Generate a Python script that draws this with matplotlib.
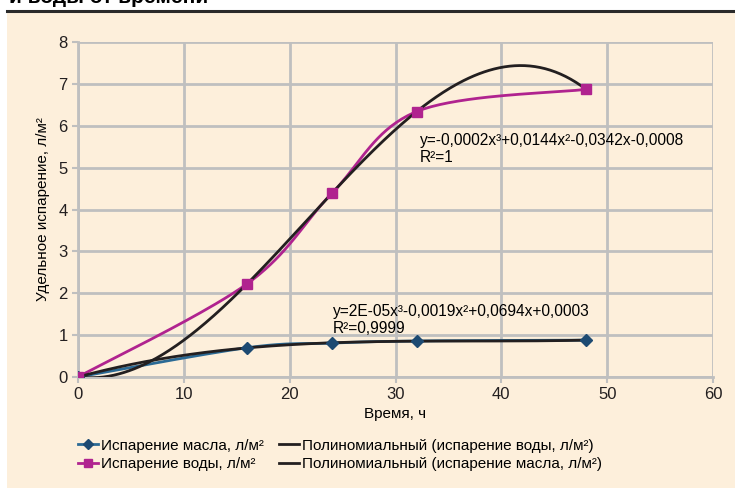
import numpy as np
import matplotlib
matplotlib.use("Agg")
import matplotlib.pyplot as plt
from matplotlib.patches import Rectangle
from matplotlib.lines import Line2D

plt.rcParams["font.family"] = ["Liberation Sans", "DejaVu Sans"]

# data
hours = [0, 16, 24, 32, 48]
oil = [0.0, 0.70, 0.81, 0.86, 0.88]
water = [0.0, 2.23, 4.39, 6.34, 6.87]

x_ticks = [0, 10, 20, 30, 40, 50, 60]
y_ticks = [0, 1, 2, 3, 4, 5, 6, 7, 8]

label_oil = "Испарение масла, л/м²"
label_water = "Испарение воды, л/м²"
label_trend_water = "Полиномиальный (испарение воды, л/м²)"
label_trend_oil = "Полиномиальный (испарение масла, л/м²)"
eq_water = "y=-0,0002x³+0,0144x²-0,0342x-0,0008\nR²=1"
eq_oil = "y=2E-05x³-0,0019x²+0,0694x+0,0003\nR²=0,9999"

BG = "#fdefdb"
GRID = "#bfbfbf"
OIL_LINE = "#2b6a95"
OIL_MARK = "#1d4a72"
WATER = "#b0238f"
TREND = "#231f20"


def smooth(xs, ys, n=40):
    """Excel-like smoothed line (Catmull-Rom through the points)."""
    p = np.column_stack([xs, ys]).astype(float)
    p = np.vstack([p[0], p, p[-1]])
    out = []
    t = np.linspace(0, 1, n)[:, None]
    for i in range(1, len(p) - 2):
        p0, p1, p2, p3 = p[i - 1], p[i], p[i + 1], p[i + 2]
        c1 = p1 + (p2 - p0) / 6
        c2 = p2 - (p3 - p1) / 6
        seg = ((1 - t) ** 3) * p1 + 3 * ((1 - t) ** 2) * t * c1 \
            + 3 * (1 - t) * t ** 2 * c2 + t ** 3 * p2
        out.append(seg)
    out = np.vstack(out)
    return out[:, 0], out[:, 1]


fig = plt.figure(figsize=(7.35, 4.91), dpi=100)
fig.patch.set_facecolor("white")
fig.patches.append(Rectangle((7 / 735, 0.006), 1, 1 - 12 / 491 - 0.006,
                             transform=fig.transFigure, facecolor=BG,
                             edgecolor="none", zorder=-1))
fig.add_artist(Line2D([7 / 735, 1], [1 - 11 / 491] * 2, color="#2a2a2a",
                      lw=2.2, transform=fig.transFigure))
fig.text(0.012, 1.005, "и воды от времени", fontsize=15, fontweight="bold",
         va="center", ha="left")

ax = fig.add_axes([78 / 735, 1 - 377 / 491, 635 / 735, 335 / 491])
ax.set_facecolor("none")

# trend lines (cubic fits)
xf = np.linspace(0, 48, 300)
cw = np.polyfit(hours, water, 3)
co = np.polyfit(hours, oil, 3)
tw, = ax.plot(xf, np.polyval(cw, xf), color=TREND, lw=2, zorder=4)
to, = ax.plot(xf, np.polyval(co, xf), color=TREND, lw=2, zorder=4)

sx, sy = smooth(hours, oil)
ax.plot(sx, sy, color=OIL_LINE, lw=2, zorder=3)
ax.plot(hours, oil, ls="none", marker="D", ms=6, color=OIL_MARK, zorder=5)
sx, sy = smooth(hours, water)
ax.plot(sx, sy, color=WATER, lw=2, zorder=3)
ax.plot(hours, water, ls="none", marker="s", ms=6.5, color=WATER, zorder=5)

h_oil = Line2D([], [], color=OIL_LINE, lw=2, marker="D", ms=5,
               markerfacecolor=OIL_MARK, markeredgecolor=OIL_MARK)
h_water = Line2D([], [], color=WATER, lw=2, marker="s", ms=6)

ax.text(32.3, 5.13, eq_water, fontsize=11.2, linespacing=1.2)
ax.text(24.1, 1.05, eq_oil, fontsize=11.2, linespacing=1.2)

ax.set_xlim(0, 60)
ax.set_ylim(0, 8)
ax.set_xticks(x_ticks)
ax.set_yticks(y_ticks)
ax.grid(True, color=GRID, lw=2)
ax.set_axisbelow(True)
for side in ["top", "right"]:
    ax.spines[side].set_visible(False)
for side in ["left", "bottom"]:
    ax.spines[side].set_color(GRID)
    ax.spines[side].set_linewidth(2)
ax.tick_params(colors=GRID, labelcolor="#231f20", labelsize=12,
               length=4, width=1.5)
ax.set_xlabel("Время, ч", fontsize=11, labelpad=3)
ax.set_ylabel("Удельное испарение, л/м²", fontsize=11, labelpad=6)

fig.legend([h_oil, h_water, tw, to],
           [label_oil, label_water, label_trend_water, label_trend_oil],
           ncol=2, loc="center left", bbox_to_anchor=(0.088, 1 - 455 / 491),
           frameon=False, fontsize=11, handlelength=1.3, handletextpad=0.2,
           columnspacing=1.0, labelspacing=0.3)

fig.savefig("out.png", dpi=100, facecolor=fig.get_facecolor())
